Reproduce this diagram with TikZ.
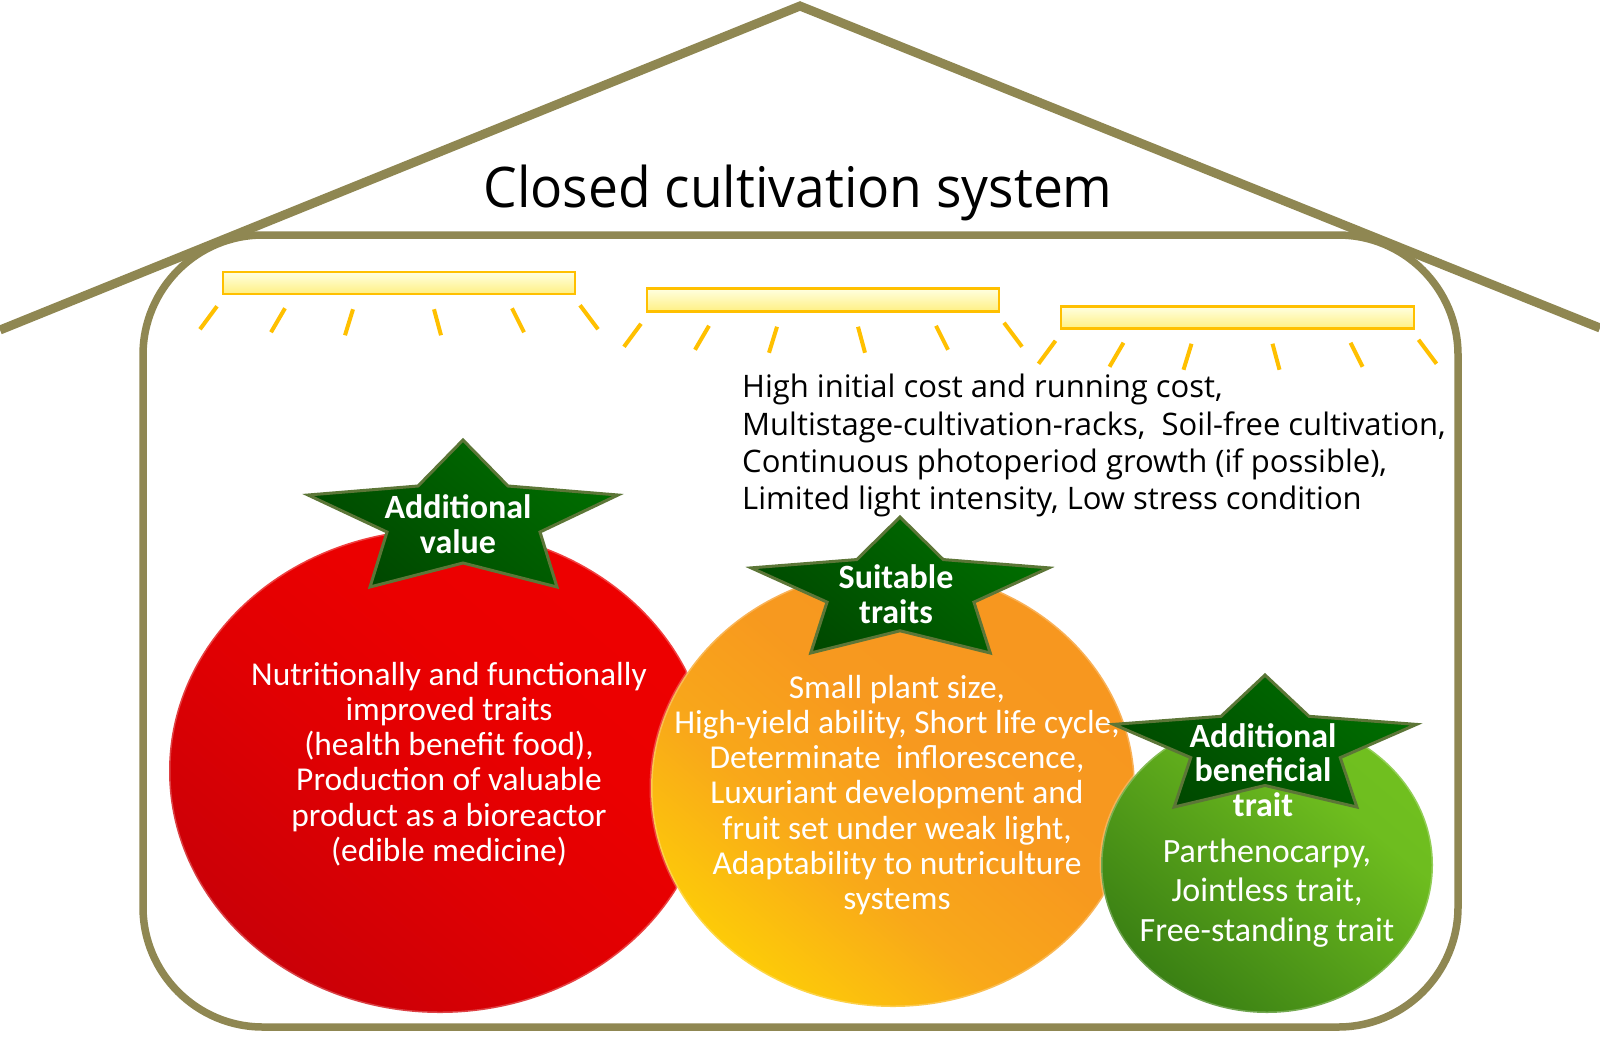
\documentclass[tikz,border=0pt]{standalone}
\usepackage{fontspec}
\setmainfont{Carlito}
\newfontfamily\blackfont{Open Sans}
\newfontfamily\titlefont[FakeStretch=0.953]{Open Sans}
\usetikzlibrary{shapes.geometric,calc}
\definecolor{houseline}{RGB}{143,135,82}
\definecolor{raygold}{RGB}{255,192,0}
\definecolor{barlight}{RGB}{255,255,225}
\definecolor{bardark}{RGB}{255,240,130}
\definecolor{starA}{RGB}{0,110,0}
\definecolor{starB}{RGB}{0,72,0}
\definecolor{starline}{RGB}{92,118,55}
\pgfdeclareverticalshading{redshade}{100bp}{rgb(0bp)=(0.7,0,0.04); rgb(22bp)=(0.78,0,0.03); rgb(45bp)=(0.88,0,0.01); rgb(60bp)=(0.92,0,0); rgb(100bp)=(0.95,0,0)}
\pgfdeclareverticalshading{orangeshade}{100bp}{rgb(0bp)=(1,0.9,0); rgb(18bp)=(1,0.86,0); rgb(40bp)=(0.975,0.66,0.1); rgb(55bp)=(0.97,0.6,0.12); rgb(100bp)=(0.97,0.58,0.12)}
\pgfdeclareverticalshading{greenshade}{100bp}{rgb(0bp)=(0.15,0.4,0.06); rgb(20bp)=(0.2,0.47,0.07); rgb(45bp)=(0.33,0.62,0.1); rgb(65bp)=(0.43,0.74,0.12); rgb(100bp)=(0.47,0.78,0.12)}
\tikzset{
  barbox/.style={draw=raygold, line width=2.5pt, top color=barlight, bottom color=bardark, minimum height=22pt, inner sep=0pt},
  ray/.style={raygold, line width=4pt},
  blob/.style={ellipse, inner sep=0pt, shading angle=-40, draw=white, draw opacity=0.25, line width=3pt},
  circtext/.style={text=white, align=center, inner sep=0pt, font=\fontsize{33.4}{35.2}\selectfont},
  startext/.style={text=white, align=center, inner sep=0pt, font=\bfseries\fontsize{34}{34.5}\selectfont},
  starstyle/.style={draw=starline, line width=3pt, line join=miter, top color=starA, bottom color=starB, shading angle=-40},
}
\newcommand\drawstar[4]{%
  \begin{scope}[shift={(#1,#2)}, xscale=#3, yscale=#4]
    \path[starstyle] (0,0) -- (45,46) -- (155,55) -- (77,92) -- (94,147) -- (0,123)
      -- (-93,147) -- (-76,92) -- (-155,55) -- (-45,46) -- cycle;
  \end{scope}}
\begin{document}
\begin{tikzpicture}[x=1pt,y=-1pt]
\useasboundingbox (0,0) rectangle (1600,1039);
\fill[white] (0,0) rectangle (1600,1039);
% house
\coordinate (roofL) at (0,330);
\coordinate (apex) at (800,6);
\coordinate (roofR) at (1600,328);
\draw[houseline, line width=9pt, line join=miter] (roofL) -- (apex) -- (roofR);
\draw[houseline, line width=7.5pt, rounded corners=120pt] (143,235) rectangle (1458,1027);
\node[font=\titlefont\fontsize{56}{60}\selectfont, anchor=base, inner sep=0pt] (title) at (798,207) {Closed cultivation system};
% lamps
\node[barbox, minimum width=352pt] (bar1) at (399,283) {};
\node[barbox, minimum width=352pt, minimum height=23pt] (bar2) at (823,300) {};
\node[barbox, minimum width=353pt] (bar3) at (1237.5,317.5) {};
\foreach \b in {bar1,bar2,bar3}{
  \foreach \xa/\ya/\xb/\yb in {-182/11/-199/34, -114/13/-128/37, -46/14/-54/40, 35/14/42/40, 113/13/125/37, 181/10/199/34}{
    \draw[ray] ($(\b.south)+(\xa,\ya)$) -- ($(\b.south)+(\xb,\yb)$);
  }
}
% conditions
\node[font=\blackfont\fontsize{31}{37.3}\selectfont, align=left, anchor=north west, inner sep=0pt] (cond) at (742,374)
  {High initial cost and running cost,\\
   Multistage-cultivation-racks,~ Soil-free cultivation,\\
   Continuous photoperiod growth (if possible),\\
   Limited light intensity, Low stress condition};
% circles
\node[blob, shading=redshade, minimum width=542pt, minimum height=484pt] (red) at (440,771) {};
\node[circtext] (redtext) at (449,764) {Nutritionally and functionally\\ improved traits\\ (health benefit food),\\ Production of valuable\\ product as a bioreactor\\ (edible medicine)};
\node[blob, shading=orangeshade, minimum width=484pt, minimum height=438pt] (orange) at (893,788) {};
\node[circtext] (ortext) at (897,795) {Small plant size,\\ High-yield ability, Short life cycle,\\ Determinate~ inflorescence,\\ Luxuriant development and\\ fruit set under weak light,\\ Adaptability to nutriculture\\ systems};
\node[blob, shading=greenshade, minimum width=332pt, minimum height=296pt] (green) at (1267,865) {};
\node[circtext, font=\fontsize{34}{39.5}\selectfont] (grtext) at (1267,893) {Parthenocarpy,\\ Jointless trait,\\ Free-standing trait};
% stars
\drawstar{463}{440}{1}{1}
\node[startext] (star1) at (458,524) {Additional\\ value};
\drawstar{900}{517}{0.96}{0.925}
\node[startext] (star2) at (896,594) {Suitable\\ traits};
\drawstar{1265}{675}{0.977}{0.898}
\node[startext] (star3) at (1263,770) {Additional\\ beneficial\\ trait};
\end{tikzpicture}
\end{document}
